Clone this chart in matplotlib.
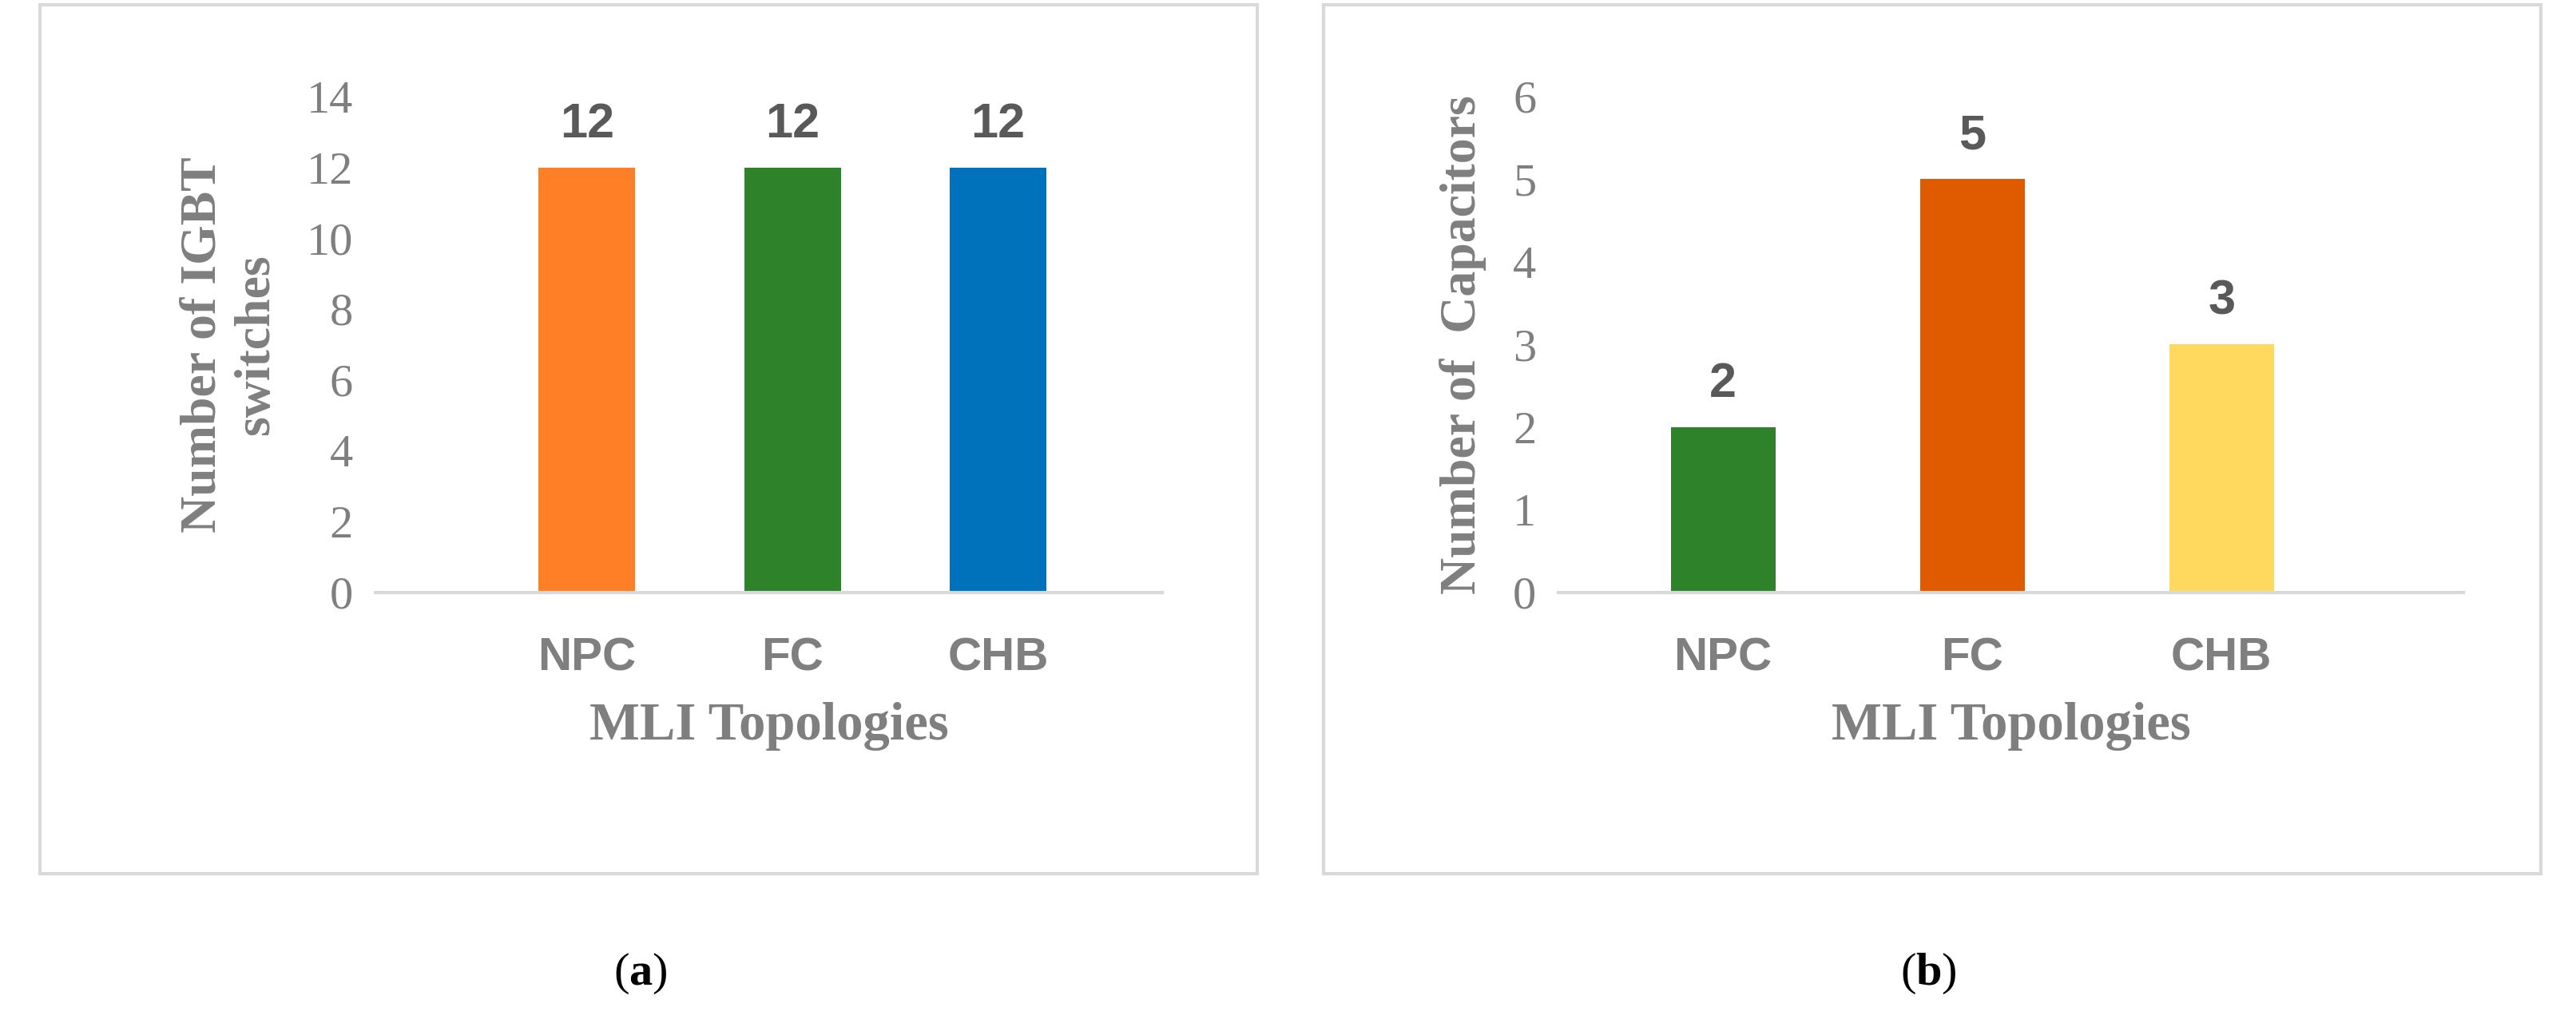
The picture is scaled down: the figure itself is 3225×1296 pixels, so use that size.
import matplotlib.pyplot as plt
from matplotlib.patches import Rectangle

topologies = ['NPC', 'FC', 'CHB']
igbt_switches = [12, 12, 12]
capacitors = [2, 5, 3]
igbt_colors = ['#FF7F27', '#2E8229', '#0072BB']
cap_colors = ['#2E8229', '#E05A00', '#FFD95E']

plt.rcParams['mathtext.fontset'] = 'custom'
plt.rcParams['mathtext.bf'] = 'Liberation Serif:bold'
plt.rcParams['mathtext.rm'] = 'Liberation Serif'

grey = '#7F7F7F'
fig = plt.figure(figsize=(16.125, 6.48), dpi=200)

# panel frames
for x0 in [25/1600, 822/1600]:
    fig.patches.append(Rectangle((x0, 1-543/643), 756/1600, 540/643, transform=fig.transFigure,
                                 fill=False, edgecolor='#D9D9D9', linewidth=1.5))

def panel(rect, vals, colors, ymax, ylabel, xlim, width, tag, tagx):
    ax = fig.add_axes(rect)
    x = range(len(vals))
    ax.bar(x, vals, width=width, color=colors)
    ax.set_xlim(*xlim)
    ax.set_ylim(0, ymax)
    ax.set_yticks(range(0, ymax+1, 2 if ymax > 6 else 1))
    for s in ['top', 'right', 'left']:
        ax.spines[s].set_visible(False)
    ax.spines['bottom'].set_color('#D9D9D9')
    ax.spines['bottom'].set_linewidth(1.5)
    ax.tick_params(length=0)
    ax.set_xticks(list(x))
    ax.set_xticklabels(topologies, family='Liberation Sans', fontweight='bold', fontsize=21, color=grey)
    ax.tick_params(axis='x', pad=20)
    ax.tick_params(axis='y', pad=10)
    for lab in ax.get_yticklabels():
        lab.set_family('Liberation Serif'); lab.set_fontsize(21); lab.set_color(grey)
    for xi, v in zip(x, vals):
        ax.text(xi, v + ymax*0.04, str(v), ha='center', va='bottom', family='Liberation Sans',
                fontweight='bold', fontsize=22, color='#595959')
    ax.set_ylabel(ylabel, family='Liberation Serif', fontweight='bold', fontsize=23, color=grey, labelpad=12)
    ax.set_xlabel('MLI Topologies', family='Liberation Serif', fontweight='bold', fontsize=24, color=grey, labelpad=10)
    fig.text(tagx, 1-605/643, '(' + r'$\mathbf{' + tag + '}$' + ')', ha='center', va='center',
             family='Liberation Serif', fontsize=21)
    return ax

ax1 = panel([233/1600, 1-368/643, 489/1600, 308/643], igbt_switches, igbt_colors, 14,
            'Number of IGBT\nswitches', (-1.03, 2.8), 0.47, 'a', 398/1600)
ax2 = panel([968/1600, 1-368/643, 562/1600, 308/643], capacitors, cap_colors, 6,
            'Number of  Capacitors', (-0.66, 2.97), 0.42, 'b', 1198/1600)

fig.savefig('out.png', dpi=200)
